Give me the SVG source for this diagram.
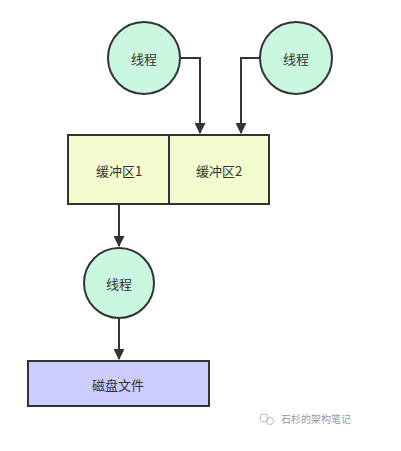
<svg xmlns="http://www.w3.org/2000/svg" width="401" height="451" viewBox="0 0 401 451">
<style>
.c{fill:#c9f7e0;stroke:#333;stroke-width:2}
.b{fill:#f2fcce;stroke:#333;stroke-width:2}
.d{fill:#ccccff;stroke:#333;stroke-width:2}
.t{font-family:"Noto Sans CJK SC","Liberation Sans",sans-serif;font-size:13px;fill:#333;text-anchor:middle;dominant-baseline:central}
.e{fill:none;stroke:#333;stroke-width:2}
.w{font-family:"Noto Sans CJK SC",sans-serif;font-size:10px;fill:#999}
</style>
<defs>
<marker id="a" viewBox="0 0 10 10" refX="9" refY="5" markerWidth="5.5" markerHeight="5.5" orient="auto" markerUnits="strokeWidth">
<path d="M0,0 L10,5 L0,10 z" fill="#333"/>
</marker>
</defs>
<rect width="401" height="451" fill="#fff"/>
<g id="edges">
<path class="e" d="M180,58 H200 V133" marker-end="url(#a)"/>
<path class="e" d="M260,58 H241 V133" marker-end="url(#a)"/>
<path class="e" d="M119,204 V246" marker-end="url(#a)"/>
<path class="e" d="M119,318 V359" marker-end="url(#a)"/>
</g>
<g id="thread1"><circle class="c" cx="144" cy="58" r="36"/><text class="t" x="144" y="58">线程</text></g>
<g id="thread2"><circle class="c" cx="296" cy="58" r="36"/><text class="t" x="296" y="58">线程</text></g>
<g id="buf1"><rect class="b" x="68" y="135" width="101" height="69"/><text class="t" x="119" y="170">缓冲区1</text></g>
<g id="buf2"><rect class="b" x="169" y="135" width="100" height="69"/><text class="t" x="219" y="170">缓冲区2</text></g>
<g id="thread3"><circle class="c" cx="119" cy="283" r="35"/><text class="t" x="119" y="283">线程</text></g>
<g id="disk"><rect class="d" x="28" y="361" width="181" height="45"/><text class="t" x="118" y="384">磁盘文件</text></g>
<g id="watermark">
<circle cx="264" cy="418" r="4" fill="none" stroke="#bbb" stroke-width="1"/>
<circle cx="270" cy="421" r="3.5" fill="none" stroke="#bbb" stroke-width="1"/>
<text class="w" x="281" y="423">石杉的架构笔记</text>
</g>
</svg>
